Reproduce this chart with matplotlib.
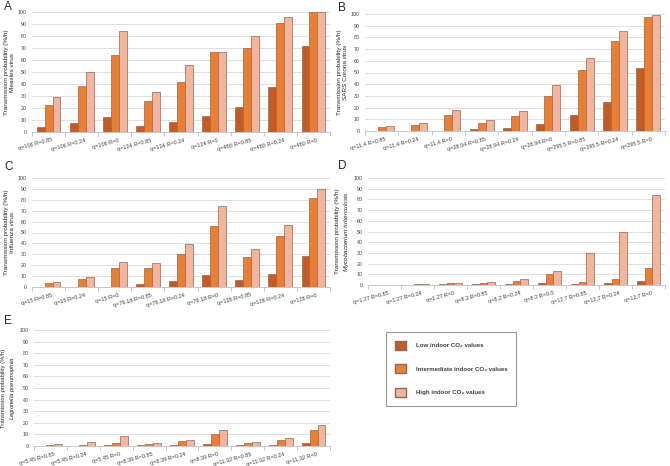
import numpy as np
import matplotlib.pyplot as plt
from matplotlib.patches import Patch

plt.rcParams['font.family'] = ['Liberation Sans', 'DejaVu Sans']
plt.rcParams['mathtext.fontset'] = 'custom'
plt.rcParams['mathtext.rm'] = 'Liberation Sans'
plt.rcParams['mathtext.it'] = 'Liberation Sans:italic'
plt.rcParams['mathtext.bf'] = 'Liberation Sans:bold'

# categories for each panel
cats_a = ["q=106 R=0.85", "q=106 R=0.24", "q=106 R=0", "q=124 R=0.85", "q=124 R=0.24",
          "q=124 R=0", "q=480 R=0.85", "q=480 R=0.24", "q=480 R=0"]
cats_b = ["q=11.4 R=0.85", "q=11.4 R=0.24", "q=11.4 R=0", "q=28.94 R=0.85", "q=28.94 R=0.24",
          "q=28.94 R=0", "q=295.5 R=0.85", "q=295.5 R=0.24", "q=295.5 R=0"]
cats_c = ["q=15 R=0.85", "q=15 R=0.24", "q=15 R=0", "q=76.18 R=0.85", "q=76.18 R=0.24",
          "q=76.18 R=0", "q=128 R=0.85", "q=128 R=0.24", "q=128 R=0"]
cats_d = ["q=1.27 R=0.85", "q=1.27 R=0.24", "q=1.27 R=0", "q=8.2 R=0.85", "q=8.2 R=0.24",
          "q=8.2 R=0.0", "q=12.7 R=0.85", "q=12.7 R=0.24", "q=12.7 R=0"]
cats_e = ["q=5.45 R=0.85", "q=5.45 R=0.24", "q=5.45 R=0", "q=8.39 R=0.85", "q=8.39 R=0.24",
          "q=8.39 R=0", "q=11.32 R=0.85", "q=11.32 R=0.24", "q=11.32 R=0"]

# low / intermediate / high CO2
low_a = [4.5, 7.5, 12.5, 5, 8, 13, 21, 37.5, 72]
mid_a = [22.5, 38, 64, 26, 42, 66.5, 70, 91, 100]
high_a = [29.5, 50, 84.5, 33.5, 55.5, 67, 80, 95.5, 100]

low_b = [0, 0, 0, 1.5, 2.5, 6, 13.5, 25, 54]
mid_b = [3, 5.5, 13.5, 6.5, 13, 30, 52.5, 77, 97.5]
high_b = [4, 7, 18, 9, 17, 39.5, 62.5, 85.5, 99]

low_c = [0, 0, 0, 3, 5.5, 11, 6, 11.5, 28.5]
mid_c = [3.5, 7, 17.5, 17, 30, 56, 27.5, 47, 82]
high_c = [4.5, 9, 23, 22, 39, 74, 34.5, 56.5, 89.5]

low_d = [0.2, 0.3, 1, 0.5, 1, 2, 1, 1.5, 3.5]
mid_d = [0.3, 0.6, 1.5, 2, 4, 10, 3, 6, 16]
high_d = [0.4, 0.8, 2, 2.5, 5.5, 13, 29.5, 49.5, 84]

low_e = [0.2, 0.3, 0.5, 0.5, 1, 2, 0.7, 1, 2.5]
mid_e = [0.8, 1, 2.5, 2, 4, 10, 2.5, 5, 13.5]
high_e = [1.8, 3.5, 9, 2.5, 5, 13.5, 3.5, 6.5, 18]

legend_labels = ["Low indoor CO\u2082 values", "Intermediate indoor CO\u2082 values",
                 "High indoor CO\u2082 values"]

c_low = "#C55A22"
c_mid = "#ED7D31"
c_high = "#F4B59C"
edge = "#8a6a5a"

W, H = 670, 466
fig = plt.figure(figsize=(6.7, 4.66), dpi=100)


def box(x0, y0, x1, y1):
    # pixel box -> figure coords
    return [x0 / W, 1 - y1 / H, (x1 - x0) / W, (y1 - y0) / H]


def panel(rect, letter, lpos, cats, low, mid, high, name, italic=False, lsize=4.6):
    ax = fig.add_axes(box(*rect))
    x = np.arange(len(cats))
    w = 0.24
    ax.bar(x - w, low, w, color=c_low, edgecolor=edge, linewidth=0.5, zorder=3)
    ax.bar(x, mid, w, color=c_mid, edgecolor=edge, linewidth=0.5, zorder=3)
    ax.bar(x + w, high, w, color=c_high, edgecolor=edge, linewidth=0.5, zorder=3)
    ax.set_xlim(-0.5, len(cats) - 0.5)
    ax.set_ylim(0, 100)
    ax.set_yticks(range(0, 101, 10))
    ax.yaxis.grid(True, color="#d9d9d9", linewidth=0.6, zorder=0)
    ax.set_xticks(x + 0.1)
    ax.set_xticklabels(cats, rotation=15, ha="right", rotation_mode="anchor",
                       fontsize=4, color="#404040")
    ax.set_xticks(np.arange(-0.5, len(cats), 1), minor=True)
    ax.tick_params(axis="x", which="major", length=0, pad=4)
    ax.tick_params(axis="x", which="minor", length=3, color="#bfbfbf", width=0.6)
    ax.tick_params(axis="y", length=0, labelsize=3.8, labelcolor="#404040", pad=4)
    for s in ["top", "right", "left"]:
        ax.spines[s].set_visible(False)
    ax.spines["bottom"].set_color("#bfbfbf")
    ax.spines["bottom"].set_linewidth(0.6)
    if italic:
        second = "$\\it{" + name.replace(" ", "\\ ") + "}$"
    else:
        second = name
    ax.set_ylabel("Transmission probability (%/h)\n" + second,
                  fontsize=lsize, labelpad=2, linespacing=1.2, color="#262626")
    fig.text(lpos[0] / W, 1 - lpos[1] / H, letter, fontsize=8.5, va="center", ha="left",
             color="#262626")
    return ax


panel((32, 12, 330, 132), "A", (4, 7), cats_a, low_a, mid_a, high_a, "Measles virus")
panel((365, 14, 665, 131), "B", (338, 8), cats_b, low_b, mid_b, high_b, "SARS Corona virus")
panel((32, 178, 330, 287), "C", (4, 167), cats_c, low_c, mid_c, high_c, "Influenza virus")
panel((368, 178, 665, 285), "D", (338, 166), cats_d, low_d, mid_d, high_d,
      "Mycobacterium tuberculosis", italic=True)
panel((34, 330, 330, 446), "E", (4, 321), cats_e, low_e, mid_e, high_e,
      "Legionella pneumophila", italic=True, lsize=4.2)

handles = [Patch(facecolor=c, edgecolor=edge, label=lab)
           for c, lab in zip([c_low, c_mid, c_high], legend_labels)]
leg = fig.legend(handles=handles, loc="upper left", bbox_to_anchor=(386 / W, 1 - 332 / H),
                 fontsize=4.4, frameon=True, fancybox=False,
                 edgecolor="#7f7f7f", handlelength=1.9, handleheight=1.9, labelspacing=2.4,
                 borderpad=1.4, handletextpad=1.6, borderaxespad=0)
leg.get_frame().set_linewidth(0.8)
for t in leg.get_texts():
    t.set_color("#404040")
    t.set_fontweight("bold")

plt.savefig("out.png", dpi=100)
